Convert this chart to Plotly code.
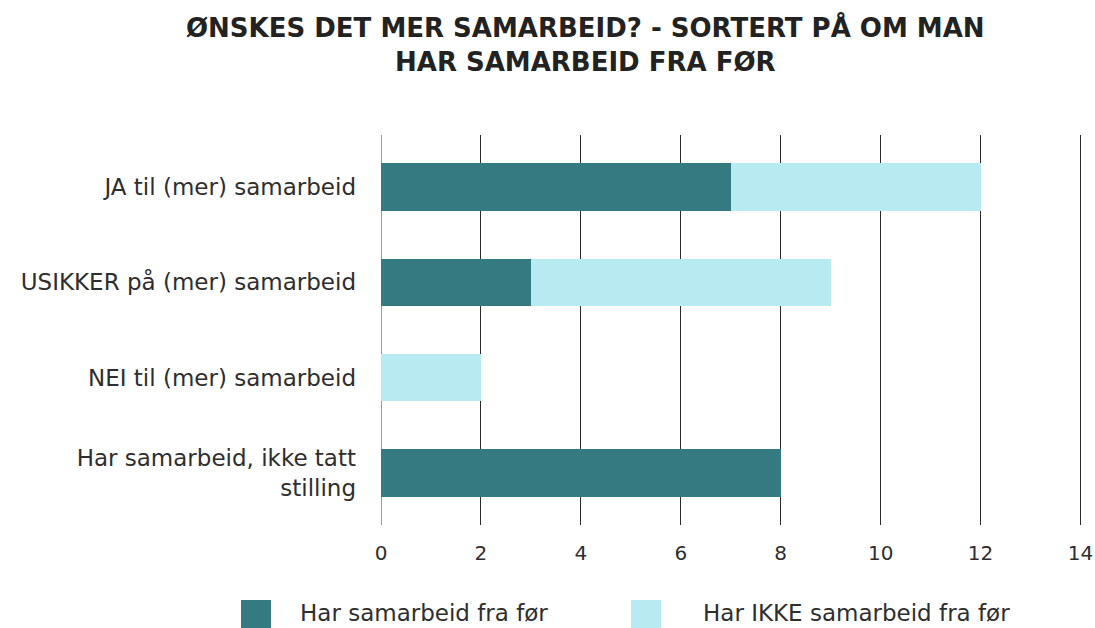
import plotly.graph_objects as go

categories = ["JA til (mer) samarbeid", "USIKKER på (mer) samarbeid", "NEI til (mer) samarbeid",
              "Har samarbeid, ikke tatt<br>stilling"]
series_names = ["Har samarbeid fra før", "Har IKKE samarbeid fra før"]
har_samarbeid = [7, 3, 0, 8]
har_ikke_samarbeid = [5, 6, 2, 0]
x_ticks = [0, 2, 4, 6, 8, 10, 12, 14]
colors = ["#357A80", "#B8EBF1"]
title_text = "ØNSKES DET MER SAMARBEID? - SORTERT PÅ OM MAN<br>HAR SAMARBEID FRA FØR"

W, H = 1095, 628
L, R, T, B = 381, 12, 135, 103
pw, ph = W - L - R, H - T - B

def px_x(p):
    return (p - L) / pw

def px_y(p):
    return (H - B - p) / ph

FONT = "'DejaVu Sans', sans-serif"
TXT = "#2e2e2e"

fig = go.Figure()
for name, vals, col in zip(series_names, [har_samarbeid, har_ikke_samarbeid], colors):
    fig.add_trace(go.Bar(y=categories, x=vals, name=name, orientation="h",
                         marker=dict(color=col, line=dict(width=0)),
                         width=0.5, showlegend=False, hoverinfo="x+name"))

# custom legend (large square swatches)
legend_pos = [(241, 298), (631, 701)]
for (sx, tx), name, col in zip(legend_pos, series_names, colors):
    fig.add_shape(type="rect", xref="paper", yref="paper",
                  x0=px_x(sx), x1=px_x(sx + 30), y0=px_y(600), y1=px_y(630),
                  fillcolor=col, line=dict(width=0), layer="above")
    fig.add_annotation(xref="paper", yref="paper", x=px_x(tx), y=px_y(613),
                       text=name, showarrow=False, xanchor="left", yanchor="middle",
                       font=dict(size=23, color=TXT, family=FONT))

# title
fig.add_annotation(xref="paper", yref="paper", x=px_x(585), y=px_y(45),
                   text="<b>" + title_text + "</b>", showarrow=False,
                   xanchor="center", yanchor="middle", align="center",
                   font=dict(size=26, color="#222222", family=FONT))

fig.update_layout(
    width=W, height=H,
    barmode="stack",
    margin=dict(l=L, r=R, t=T, b=B, autoexpand=False),
    paper_bgcolor="white", plot_bgcolor="white",
    xaxis=dict(range=[0, 14.05], tickvals=x_ticks, showgrid=True, gridcolor="#2a2a2a", gridwidth=1.2,
               zeroline=True, zerolinecolor="#9a9a9a", zerolinewidth=1.2,
               tickfont=dict(size=20, color=TXT, family=FONT), automargin=False,
               ticklabeloverflow="allow",
               ticks="", ticklabelstandoff=14, showline=False, fixedrange=True),
    yaxis=dict(categoryorder="array", categoryarray=categories, range=[3.546, -0.546],
               tickfont=dict(size=23, color=TXT, family=FONT), automargin=False,
               ticks="", ticklabelstandoff=24, showgrid=False, showline=False, zeroline=False,
               fixedrange=True),
)

fig.write_html("out.html", config={"displayModeBar": False},
               post_script="document.body.style.margin='0';")
